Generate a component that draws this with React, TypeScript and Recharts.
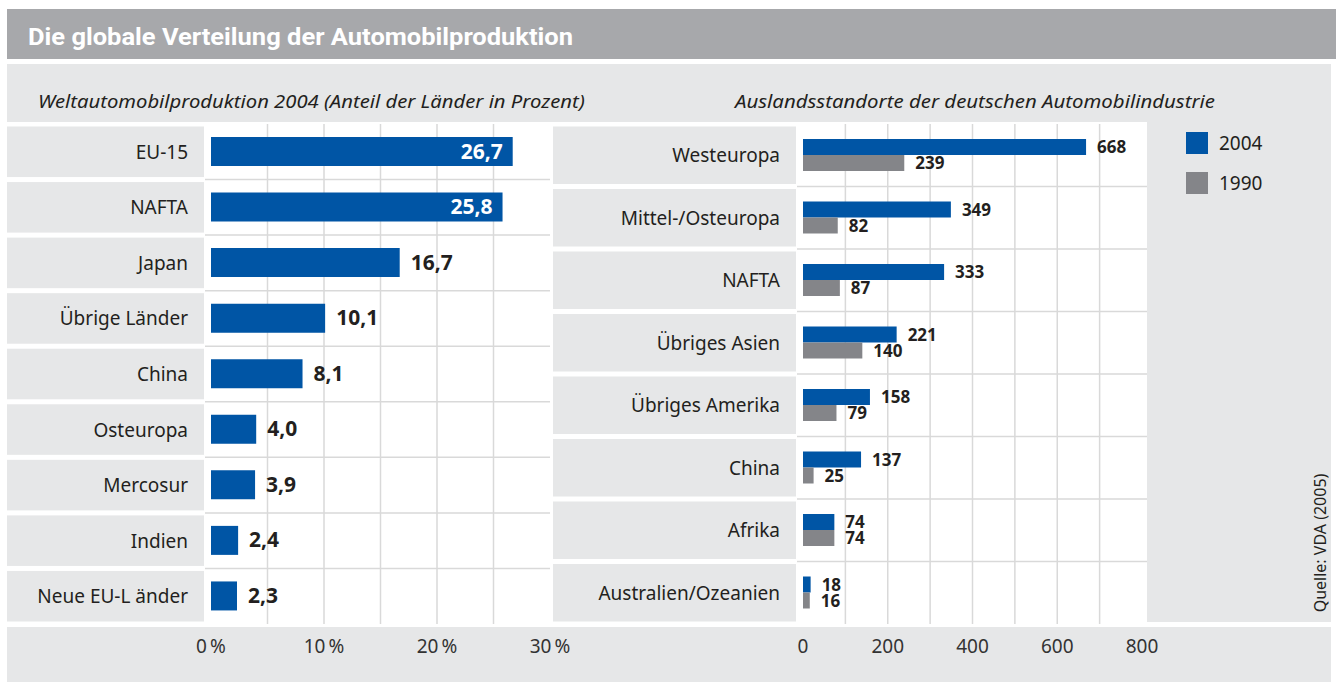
import React from 'react';
import { BarChart, Bar, XAxis, YAxis, CartesianGrid, LabelList, Legend } from 'recharts';

// ---- data ----
const countries = ['EU-15', 'NAFTA', 'Japan', 'Übrige Länder', 'China', 'Osteuropa', 'Mercosur', 'Indien', 'Neue EU-L änder'];
const share2004 = [26.7, 25.8, 16.7, 10.1, 8.1, 4.0, 3.9, 2.4, 2.3];
const pctTicks = [0, 10, 20, 30];
const pctGrid = [5, 10, 15, 20, 25];

const regions = ['Westeuropa', 'Mittel-/Osteuropa', 'NAFTA', 'Übriges Asien', 'Übriges Amerika', 'China', 'Afrika', 'Australien/Ozeanien'];
const sites2004 = [668, 349, 333, 221, 158, 137, 74, 18];
const sites1990 = [239, 82, 87, 140, 79, 25, 74, 16];
const siteTicks = [0, 200, 400, 600, 800];
const siteGrid = [100, 200, 300, 400, 500, 600, 700];
const seriesOrder = ['2004', '1990'];

const TITLE = 'Die globale Verteilung der Automobilproduktion';
const SUB_LEFT = 'Weltautomobilproduktion 2004 (Anteil der Länder in Prozent)';
const SUB_RIGHT = 'Auslandsstandorte der deutschen Automobilindustrie';
const SOURCE = 'Quelle: VDA (2005)';

// ---- styles ----
const BLUE = '#0055a5';
const GREY_BAR = '#848589';
const PANEL = '#e6e7e8';
const TITLE_BG = '#a7a8ab';
const TEXT = '#231f20';
const GRID = '#d9d9d9';
const FONT = '"Noto Sans", "Open Sans", sans-serif';

const PLOT_H = 500;
const CHART_H = 558;

const leftData = countries.map((name, i) => ({ name, value: share2004[i] }));
const rightData = regions.map((name, i) => ({ name, v2004: sites2004[i], v1990: sites1990[i] }));

const fmt = (v: number) => v.toFixed(1).replace('.', ',');

const CellTick = (props: any) => {
  const { x, y, payload, rowH } = props;
  return (
    <g>
      <rect x={0} y={y - rowH / 2 + 2.5} width={x - 1} height={rowH - 5} fill={PANEL} />
      <text x={x - 17} y={y} dy={7} textAnchor="end" fontSize={19} fill={TEXT} fontFamily={FONT}>
        {payload.value}
      </text>
    </g>
  );
};

const AxisTick = (props: any) => {
  const { x, y, payload, suffix } = props;
  return (
    <text x={x} y={y} dy={29} textAnchor="middle" fontSize={19} fill="#333" fontFamily={FONT}>
      {payload.value}
      {suffix}
    </text>
  );
};

const bandLines = (n: number) => (p: any) => {
  const off = p && p.offset ? p.offset : { top: 0, height: PLOT_H };
  const out: number[] = [];
  for (let i = 1; i < n; i++) out.push(off.top + (i * off.height) / n);
  return out;
};

const LeftLabel = (props: any) => {
  const { x, y, width, height, value } = props;
  const inside = value >= 20;
  return (
    <text
      x={inside ? x + width - 10 : x + width + 11}
      y={y + height / 2}
      dy={7}
      textAnchor={inside ? 'end' : 'start'}
      fontSize={21}
      fontWeight={700}
      fill={inside ? '#fff' : TEXT}
      fontFamily={FONT}
    >
      {fmt(value)}
    </text>
  );
};

const RightLabel = (props: any) => {
  const { x, y, width, height, value } = props;
  return (
    <text x={x + width + 11} y={y + height / 2} dy={6} textAnchor="start" fontSize={17} fontWeight={700} fill={TEXT} fontFamily={FONT}>
      {value}
    </text>
  );
};

const LegendBox = (props: any) => {
  const items = [...(props.payload || [])].sort(
    (a: any, b: any) => seriesOrder.indexOf(String(a.value)) - seriesOrder.indexOf(String(b.value))
  );
  return (
    <div style={{ fontFamily: FONT }}>
      {items.map((e: any) => (
        <div key={e.value} style={{ display: 'flex', alignItems: 'center', height: 22, marginBottom: 18 }}>
          <div style={{ width: 22, height: 22, background: e.color, marginRight: 11 }} />
          <span style={{ fontSize: 19, color: TEXT }}>{e.value}</span>
        </div>
      ))}
    </div>
  );
};

export default function App() {
  return (
    <div style={{ position: 'absolute', left: 0, top: 0, width: 1336, height: 682, background: '#fff', overflow: 'hidden' }}>
      <style>{'.recharts-surface{overflow:visible}'}</style>
      <svg width={1336} height={682} style={{ position: 'absolute', left: 0, top: 0 }}>
        <rect x={7} y={9} width={1329} height={50} fill={TITLE_BG} />
        <text x={28} y={45} fontSize={24} fontWeight={700} fill="#fff" fontFamily='Roboto, "Noto Sans", sans-serif' textLength={545} lengthAdjust="spacingAndGlyphs">
          {TITLE}
        </text>
        <rect x={7} y={64} width={1324} height={618} fill={PANEL} />
        <rect x={7} y={122} width={1324} height={505} fill="#fff" />
        <rect x={1147} y={122} width={184} height={500} fill={PANEL} />
        <text x={38} y={108} fontSize={18} fontStyle="italic" fill={TEXT} fontFamily={FONT} textLength={547} lengthAdjust="spacingAndGlyphs">
          {SUB_LEFT}
        </text>
        <text x={735} y={108} fontSize={18} fontStyle="italic" fill={TEXT} fontFamily={FONT} textLength={480} lengthAdjust="spacingAndGlyphs">
          {SUB_RIGHT}
        </text>
        <text transform="translate(1326,543) rotate(-90)" textAnchor="middle" fontSize={16} fill={TEXT} fontFamily={FONT}>
          {SOURCE}
        </text>
      </svg>

      <div style={{ position: 'absolute', left: 7, top: 124 }}>
        <BarChart layout="vertical" width={543} height={CHART_H} data={leftData} margin={{ top: 0, right: 0, bottom: 0, left: 0 }} barSize={29}>
          <CartesianGrid fill="#fff" stroke={GRID} strokeWidth={1.5} verticalValues={pctGrid} horizontalCoordinatesGenerator={bandLines(countries.length)} />
          <XAxis
            type="number"
            domain={[0, 30]}
            ticks={pctTicks}
            interval={0}
            padding={{ left: 6, right: 0 }}
            axisLine={false}
            tickLine={false}
            tickSize={0}
            tickMargin={0}
            height={CHART_H - PLOT_H}
            tick={<AxisTick suffix={'\u2009%'} />}
          />
          <YAxis
            type="category"
            dataKey="name"
            width={198}
            interval={0}
            axisLine={false}
            tickLine={false}
            tickSize={0}
            tickMargin={0}
            tick={<CellTick rowH={PLOT_H / countries.length} />}
          />
          <Bar dataKey="value" fill={BLUE} isAnimationActive={false}>
            <LabelList dataKey="value" content={<LeftLabel />} />
          </Bar>
        </BarChart>
      </div>

      <div style={{ position: 'absolute', left: 553, top: 124 }}>
        <BarChart layout="vertical" width={778} height={CHART_H} data={rightData} margin={{ top: 0, right: 184, bottom: 0, left: 0 }} barSize={16} barGap={0}>
          <CartesianGrid fill="#fff" stroke={GRID} strokeWidth={1.5} verticalValues={siteGrid} horizontalCoordinatesGenerator={bandLines(regions.length)} />
          <XAxis
            type="number"
            domain={[0, 800]}
            ticks={siteTicks}
            interval={0}
            padding={{ left: 6, right: 5 }}
            axisLine={false}
            tickLine={false}
            tickSize={0}
            tickMargin={0}
            height={CHART_H - PLOT_H}
            tick={<AxisTick suffix="" />}
          />
          <YAxis
            type="category"
            dataKey="name"
            width={244}
            interval={0}
            axisLine={false}
            tickLine={false}
            tickSize={0}
            tickMargin={0}
            tick={<CellTick rowH={PLOT_H / regions.length} />}
          />
          <Legend
            layout="horizontal"
            align="center"
            verticalAlign="middle"
            content={<LegendBox />}
            wrapperStyle={{ position: 'absolute', left: 633, top: 8, width: 120, bottom: 'auto', right: 'auto' }}
          />
          <Bar dataKey="v2004" name="2004" fill={BLUE} isAnimationActive={false}>
            <LabelList dataKey="v2004" content={<RightLabel />} />
          </Bar>
          <Bar dataKey="v1990" name="1990" fill={GREY_BAR} isAnimationActive={false}>
            <LabelList dataKey="v1990" content={<RightLabel />} />
          </Bar>
        </BarChart>
      </div>
    </div>
  );
}
